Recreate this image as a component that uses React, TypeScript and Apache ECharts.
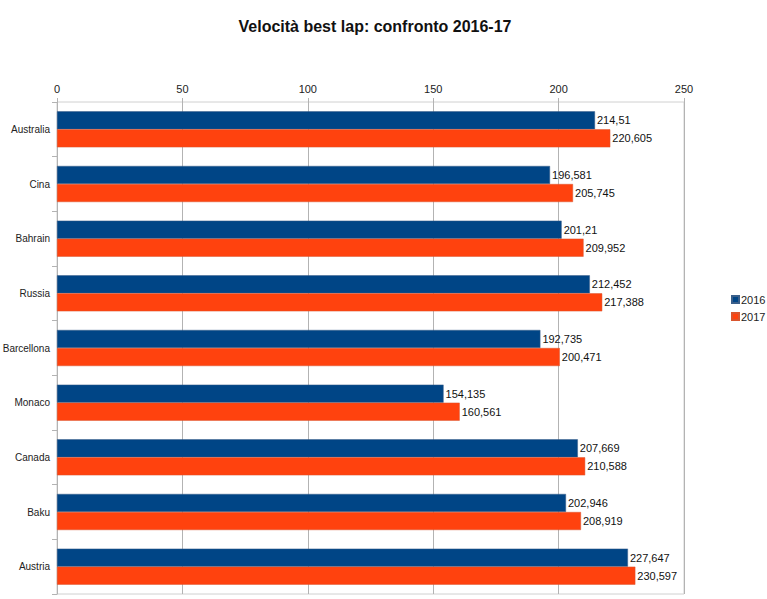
import React, { useEffect, useRef } from "react";
import * as echarts from "echarts";

const categories = ["Australia", "Cina", "Bahrain", "Russia", "Barcellona", "Monaco", "Canada", "Baku", "Austria"];
const values2016 = [214.51, 196.581, 201.21, 212.452, 192.735, 154.135, 207.669, 202.946, 227.647];
const values2017 = [220.605, 205.745, 209.952, 217.388, 200.471, 160.561, 210.588, 208.919, 230.597];
const seriesNames = ["2016", "2017"];
const xTicks = { min: 0, max: 250, interval: 50 };

const FONT = "'Liberation Sans', Arial, sans-serif";

const fmt = (v: number) => String(v).replace(".", ",");

export default function App() {
  const ref = useRef<HTMLDivElement>(null);
  useEffect(() => {
    document.body.style.margin = "0";
    const chart = echarts.init(ref.current!, null, { renderer: "svg" });
    const label = {
      show: true,
      position: "right",
      distance: 2,
      fontSize: 11,
      fontFamily: FONT,
      color: "#111",
      formatter: (p: any) => fmt(p.value),
    };
    chart.setOption({
      animation: false,
      backgroundColor: "#fff",
      textStyle: { fontFamily: FONT },
      title: {
        text: "Velocità best lap: confronto 2016-17",
        left: 370,
        textAlign: "center",
        top: 13,
        textStyle: { fontSize: 16, fontWeight: "bold", color: "#111", fontFamily: FONT },
      },
      legend: {
        orient: "vertical",
        left: 726,
        top: 289,
        itemWidth: 7,
        itemHeight: 7,
        itemGap: 6,
        icon: "rect",
        textStyle: { fontSize: 11, color: "#222", padding: [0, 0, 0, -3] },
        data: seriesNames,
      },
      grid: {
        left: 57,
        right: 767 - 684,
        top: 102,
        bottom: 599 - 594,
        outerBoundsMode: "none",
        containLabel: false,
        show: true,
        borderColor: "#d0d0d0",
        borderWidth: 1,
      },
      xAxis: {
        type: "value",
        position: "top",
        min: xTicks.min,
        max: xTicks.max,
        interval: xTicks.interval,
        axisLine: { show: false },
        axisTick: { show: true, inside: false, length: 4, lineStyle: { color: "#b3b3b3" } },
        axisLabel: { fontSize: 11, color: "#222", margin: 8 },
        splitLine: { show: true, lineStyle: { color: "#b3b3b3" } },
      },
      yAxis: {
        type: "category",
        data: categories,
        inverse: true,
        axisLine: { show: true, lineStyle: { color: "#b3b3b3" } },
        axisTick: { show: true, length: 5, lineStyle: { color: "#b3b3b3" } },
        axisLabel: { fontSize: 10, color: "#222", margin: 7 },
      },
      series: [
        {
          name: seriesNames[0],
          type: "bar",
          data: values2016,
          itemStyle: { color: "#004586", borderColor: "#3a5f8a", borderWidth: 0.5 },
          barGap: "0%",
          barCategoryGap: "34%",
          label,
        },
        {
          name: seriesNames[1],
          type: "bar",
          data: values2017,
          itemStyle: { color: "#ff420e", borderColor: "#d9552e", borderWidth: 0.5 },
          barGap: "0%",
          barCategoryGap: "34%",
          label,
        },
      ],
    });
    return () => chart.dispose();
  }, []);
  return <div ref={ref} style={{ width: 767, height: 599 }} />;
}
